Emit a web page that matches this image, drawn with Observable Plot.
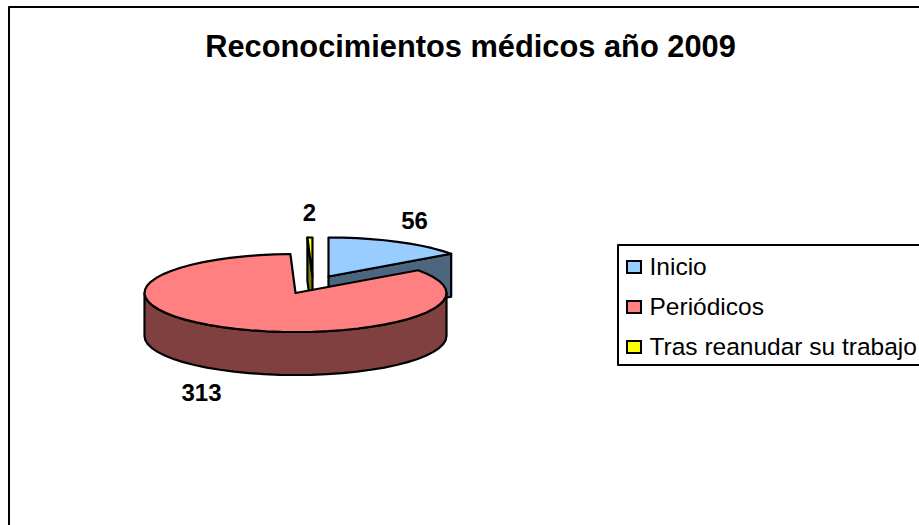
<!DOCTYPE html>
<html lang="es">
<head>
<meta charset="utf-8">
<style>html,body{margin:0;padding:0;background:#fff;overflow:hidden}svg{display:block}</style>
<script src="https://cdn.jsdelivr.net/npm/d3@7"></script>
<script src="https://cdn.jsdelivr.net/npm/@observablehq/plot@0.6"></script>
</head>
<body>
<script>
const chartTitle = "Reconocimientos médicos año 2009";
const categories = ["Inicio", "Periódicos", "Tras reanudar su trabajo"];
const values = [56, 313, 2];
const topColors = ["#99CCFF", "#FF8080", "#FFFF00"];
const wallColors = ["#4D6680", "#804040", "#808000"];

// Layout of the pseudo-3D pie, in pixels
const W = 919, H = 525, FONT = "Liberation Sans, Arial, sans-serif";
const pieCentre = [295, 292.5], rx = 151, ry = 39, depth = 43;
const explode = [[33, -16.5], [0, 0], [17, -16.5]];
const labelPos = [[414, 221], [201, 393], [309, 213]];
const legendBox = {x: 617.5, y: 244.5, bottom: 364.5, swatchX: 627, swatch: 14, textX: 649, rows: [267, 307, 347]};
const frame = {x: 8.5, y: 6.5};

const total = d3.sum(values);
let acc = 0;
const slices = categories.map((category, i) => {
  const a0 = acc / total * 2 * Math.PI; acc += values[i];
  const a1 = acc / total * 2 * Math.PI;
  return {category, value: values[i], a0, a1,
    cx: pieCentre[0] + explode[i][0], cy: pieCentre[1] + explode[i][1],
    top: topColors[i], wall: wallColors[i]};
});
const at = (s, a, dy = 0) => ({x: s.cx + rx * Math.sin(a), y: s.cy - ry * Math.cos(a) + dy});
const arc = (s, a0, a1, dy = 0) => {
  const n = Math.max(1, Math.ceil(Math.abs(a1 - a0) / (Math.PI / 30)));
  return d3.range(n + 1).map(k => at(s, a0 + (a1 - a0) * k / n, dy));
};
const poly = (pts, fill) => Plot.line([...pts, pts[0]], {x: "x", y: "y", fill, stroke: "#000", strokeWidth: 2.2, strokeLinejoin: "round"});
const topFace = s => poly([{x: s.cx, y: s.cy}, ...arc(s, s.a0, s.a1)], s.top);
const cutWall = (s, a) => poly([{x: s.cx, y: s.cy}, at(s, a), at(s, a, depth), {x: s.cx, y: s.cy + depth}], s.wall);
const frontWall = s => poly([...arc(s, Math.PI / 2, 3 * Math.PI / 2), ...arc(s, 3 * Math.PI / 2, Math.PI / 2, depth)], s.wall);

const [inicio, periodicos, tras] = slices;
const legendRows = categories.map((c, i) => ({c, y: legendBox.rows[i], color: topColors[i]}));
const labels = slices.map((s, i) => ({t: String(s.value), x: labelPos[i][0], y: labelPos[i][1]}));

const plot = Plot.plot({
  width: W, height: H, margin: 0,
  x: {domain: [0, W], range: [0, W], axis: null},
  y: {domain: [0, H], range: [0, H], axis: null},
  style: {background: "#fff", fontFamily: FONT},
  marks: [
    // chart frame, cut off by the window on the right and at the bottom
    Plot.line([{x: frame.x, y: H + 5}, {x: frame.x, y: frame.y}, {x: W + 5, y: frame.y}], {x: "x", y: "y", stroke: "#000", strokeWidth: 2, clip: true}),
    Plot.text([chartTitle], {x: () => 470, y: () => 47, text: d => d, fontSize: 30.8, fontWeight: "bold", fill: "#000"}),
    // slices, back to front
    cutWall(inicio, inicio.a1), topFace(inicio),
    cutWall(tras, tras.a0), topFace(tras),
    frontWall(periodicos), topFace(periodicos),
    Plot.text(labels, {x: "x", y: "y", text: "t", fontSize: 24, fontWeight: "bold", fill: "#000"}),
    // legend
    Plot.line([{x: W + 5, y: legendBox.y}, {x: legendBox.x, y: legendBox.y}, {x: legendBox.x, y: legendBox.bottom}, {x: W + 5, y: legendBox.bottom}], {x: "x", y: "y", stroke: "#000", strokeWidth: 2, clip: true}),
    Plot.rect(legendRows, {x1: () => legendBox.swatchX, x2: () => legendBox.swatchX + legendBox.swatch, y1: d => d.y - 6, y2: d => d.y + 6, fill: "color", stroke: "#000", strokeWidth: 2}),
    Plot.text(legendRows, {x: () => legendBox.textX, y: "y", text: "c", textAnchor: "start", fontSize: 24.5, fill: "#000"})
  ]
});
document.body.appendChild(plot);
</script>
</body>
</html>
